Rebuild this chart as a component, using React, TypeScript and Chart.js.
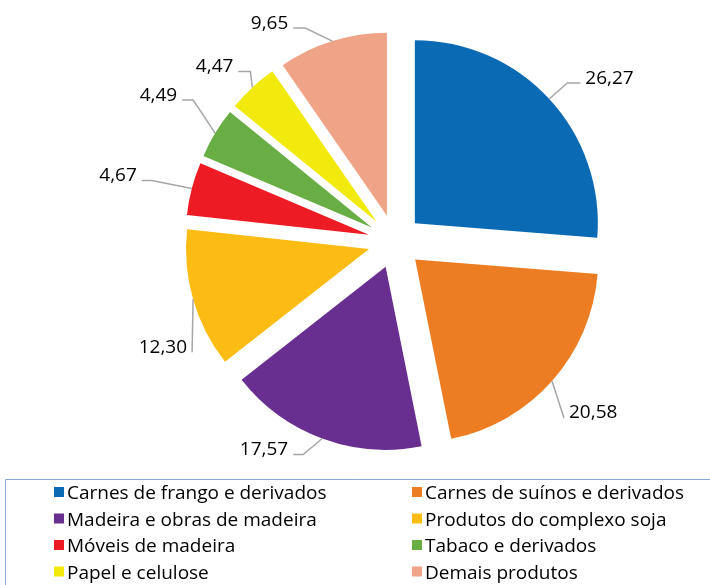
import React, { useEffect, useRef } from "react";
import { Chart, registerables } from "chart.js";

Chart.register(...registerables);

// ---- data ----
const categories = [
  "Carnes de frango e derivados",
  "Carnes de suínos e derivados",
  "Madeira e obras de madeira",
  "Produtos do complexo soja",
  "Móveis de madeira",
  "Tabaco e derivados",
  "Papel e celulose",
  "Demais produtos",
];
const shares = [26.27, 20.58, 17.57, 12.3, 4.67, 4.49, 4.47, 9.65];

// ---- styles / layout ----
const colors = [
  "#0a6ab4",
  "#ed7d22",
  "#682f91",
  "#fdbc13",
  "#ed1c24",
  "#69ad45",
  "#f2ea0d",
  "#f0a487",
];
const EXPLODE = 27;
const RADIUS = 183;
const FONT = '19px "Open Sans", "DejaVu Sans", sans-serif';
// leader line: [elbow dx, elbow dy, horizontal length, text side]
const leaderLayout: number[][] = [
  [18, -16, 13, 1],
  [12, 37, 0, 1],
  [-19, 16, -10, -1],
  [-1, 53, 0, -1],
  [-40, -8, -10, -1],
  [-22, -33, -11, -1],
  [-2, -16, -12, -1],
  [-27, -13, -12, -1],
];
const legendCols = [54, 412];
const legendRows = [492, 518.5, 545, 571.5];

const explodePlugin = {
  id: "explode",
  afterDatasetsUpdate(chart: any) {
    const a = chart.chartArea;
    const cx = (a.left + a.right) / 2;
    const cy = (a.top + a.bottom) / 2;
    const meta = chart.getDatasetMeta(0);
    meta.data.forEach((arc: any) => {
      const mid = (arc.startAngle + arc.endAngle) / 2;
      arc.x = cx + EXPLODE * Math.cos(mid);
      arc.y = cy + EXPLODE * Math.sin(mid);
    });
  },
};

const labelPlugin = {
  id: "leaderLabels",
  afterDatasetsDraw(chart: any) {
    const ctx = chart.ctx;
    const meta = chart.getDatasetMeta(0);
    const values = chart.data.datasets[0].data as number[];
    ctx.save();
    meta.data.forEach((arc: any, i: number) => {
      const mid = (arc.startAngle + arc.endAngle) / 2;
      const ax = arc.x + arc.outerRadius * Math.cos(mid);
      const ay = arc.y + arc.outerRadius * Math.sin(mid);
      const [dx, dy, h, side] = leaderLayout[i];
      const ex = ax + dx;
      const ey = ay + dy;
      const hx = ex + h;
      ctx.beginPath();
      ctx.moveTo(ax, ay);
      ctx.lineTo(ex, ey);
      ctx.lineTo(hx, ey);
      ctx.strokeStyle = "#a6a6a6";
      ctx.lineWidth = 1.5;
      ctx.stroke();
      ctx.font = FONT;
      ctx.fillStyle = "#000000";
      ctx.textBaseline = "alphabetic";
      ctx.textAlign = side > 0 ? "left" : "right";
      const txt = values[i].toFixed(2).replace(".", ",");
      ctx.fillText(txt, hx + side * 5, ey + 0.5);
    });
    ctx.restore();
  },
};

const legendPlugin = {
  id: "boxLegend",
  afterDraw(chart: any) {
    const ctx = chart.ctx;
    const labels = chart.data.labels as string[];
    const bg = chart.data.datasets[0].backgroundColor as string[];
    ctx.save();
    ctx.beginPath();
    ctx.moveTo(5.5, chart.height + 2);
    ctx.lineTo(5.5, 479.5);
    ctx.lineTo(chart.width + 2, 479.5);
    ctx.strokeStyle = "#88acd4";
    ctx.lineWidth = 1;
    ctx.stroke();
    ctx.font = FONT;
    ctx.textBaseline = "alphabetic";
    ctx.textAlign = "left";
    labels.forEach((lab, i) => {
      const col = i % 2;
      const row = Math.floor(i / 2);
      const x = legendCols[col];
      const y = legendRows[row];
      ctx.fillStyle = bg[i];
      ctx.fillRect(x, y - 5, 10, 10);
      ctx.fillStyle = "#000000";
      ctx.fillText(lab, x + 13, y + 7);
    });
    ctx.restore();
  },
};

export default function App() {
  const ref = useRef<HTMLCanvasElement>(null);
  useEffect(() => {
    if (!ref.current) return;
    const chart = new Chart(ref.current, {
      type: "pie",
      data: {
        labels: categories,
        datasets: [
          {
            data: shares,
            backgroundColor: colors,
            borderWidth: 0,
            radius: RADIUS,
          } as any,
        ],
      },
      options: {
        responsive: false,
        animation: false,
        events: [],
        layout: { padding: { left: 80, right: 0, top: 0, bottom: 102 } },
        plugins: {
          legend: { display: false },
          tooltip: { enabled: false },
          title: { display: false },
        },
      },
      plugins: [explodePlugin, labelPlugin, legendPlugin],
    });
    return () => chart.destroy();
  }, []);
  return (
    <div style={{ position: "absolute", left: 0, top: 0, width: 710, height: 585, background: "#ffffff" }}>
      <canvas ref={ref} width={710} height={585} style={{ display: "block" }} />
    </div>
  );
}
